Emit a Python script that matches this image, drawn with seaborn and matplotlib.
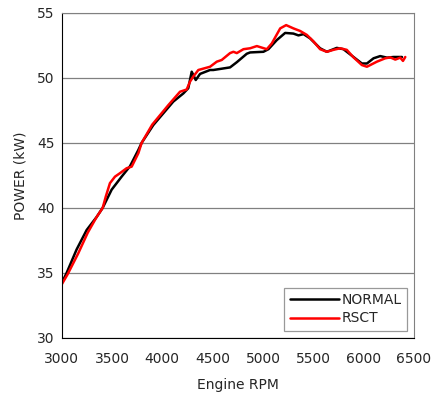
import numpy as np
import pandas as pd
import seaborn as sns
import matplotlib.pyplot as plt

# Curvas de potência
rpm_normal = [3000, 3050, 3149, 3249, 3348, 3408, 3497, 3596, 3679, 3762, 3795, 3911, 4010,
              4109, 4209, 4258, 4292, 4332, 4375, 4474, 4507, 4673, 4740, 4839, 4872, 5004,
              5054, 5137, 5220, 5302, 5352, 5402, 5468, 5567, 5634, 5733, 5799, 5899, 5982,
              6032, 6098, 6164, 6231, 6297, 6380]
kw_normal = [34.2, 35.0, 36.8, 38.3, 39.3, 40.0, 41.4, 42.4, 43.2, 44.45, 45.0, 46.37, 47.27,
             48.17, 48.8, 49.2, 50.47, 49.83, 50.3, 50.6, 50.6, 50.8, 51.2, 51.85, 51.95, 52.0,
             52.2, 52.9, 53.45, 53.4, 53.26, 53.36, 53.03, 52.27, 52.0, 52.3, 52.2, 51.6, 51.1,
             51.1, 51.5, 51.67, 51.55, 51.6, 51.6]

rpm_rsct = [3000, 3060, 3165, 3260, 3348, 3408, 3440, 3480, 3530, 3580, 3646, 3696, 3762,
            3795, 3900, 4060, 4176, 4242, 4275, 4308, 4358, 4474, 4541, 4590, 4673, 4706,
            4740, 4806, 4872, 4939, 5038, 5088, 5171, 5230, 5302, 5369, 5435, 5501, 5567,
            5634, 5700, 5766, 5832, 5899, 5982, 6032, 6065, 6131, 6214, 6264, 6314, 6363,
            6390, 6413]
kw_rsct = [34.1, 34.9, 36.5, 38.1, 39.3, 40.0, 40.9, 41.9, 42.4, 42.67, 43.05, 43.17, 44.2,
           45.0, 46.4, 47.9, 48.93, 49.1, 49.7, 50.1, 50.6, 50.85, 51.24, 51.37, 51.9, 52.0,
           51.9, 52.2, 52.27, 52.44, 52.2, 52.65, 53.8, 54.05, 53.8, 53.6, 53.3, 52.8, 52.2,
           52.0, 52.15, 52.27, 52.15, 51.57, 50.98, 50.85, 50.98, 51.24, 51.5, 51.57, 51.4,
           51.55, 51.3, 51.6]

df = pd.concat([
    pd.DataFrame({"rpm": rpm_normal, "kw": kw_normal, "Modo": "NORMAL"}),
    pd.DataFrame({"rpm": rpm_rsct, "kw": kw_rsct, "Modo": "RSCT"}),
])

sns.set_style("white")
plt.rcParams["font.family"] = ["DejaVu Sans"]

fig = plt.figure(figsize=(4.4, 3.99), dpi=100)
ax = fig.add_axes([0.140, 0.153, 0.801, 0.815])
sns.lineplot(data=df, x="rpm", y="kw", hue="Modo", palette={"NORMAL": "black", "RSCT": "#ff0000"},
             linewidth=1.8, ax=ax, sort=False)

ax.set_xlim(3000, 6500)
ax.set_ylim(30, 55)
ax.set_xticks(range(3000, 6501, 500))
ax.set_yticks(range(30, 56, 5))
ax.yaxis.grid(True, color="#808080", linewidth=0.9)
ax.set_axisbelow(True)
for s in ["top", "right"]:
    ax.spines[s].set_color("#808080")
for s in ["left", "bottom"]:
    ax.spines[s].set_color("black")
ax.tick_params(axis="x", direction="in", length=4, width=0.8, labelsize=10, color="black", pad=10)
ax.tick_params(axis="y", length=0, labelsize=10, pad=5)
ax.set_xlabel("Engine RPM", fontsize=10, labelpad=9)
ax.set_ylabel("POWER (kW)", fontsize=10, labelpad=7)

leg = ax.legend(title=None, loc="lower right", fontsize=10, frameon=True, fancybox=False,
                handlelength=3.5, borderaxespad=0.5, handletextpad=0.2, labelspacing=0.3)
leg.get_frame().set_edgecolor("#808080")
leg.get_frame().set_linewidth(0.9)

fig.savefig("out.png", dpi=100)
